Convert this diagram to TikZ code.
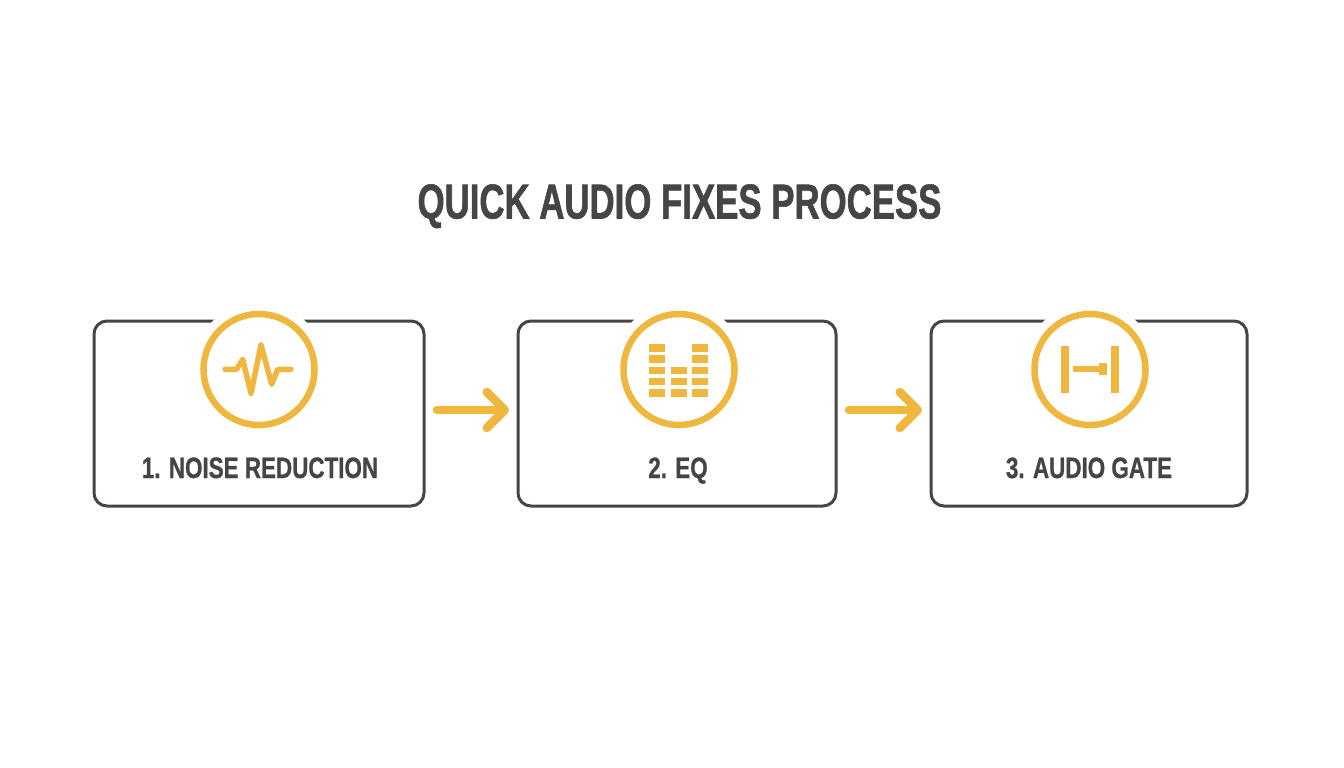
\documentclass[tikz,border=0pt]{standalone}
\usepackage{fontspec}
\setmainfont[FakeStretch=0.78]{Liberation Sans}
\newfontfamily\titlefont[FakeStretch=0.71,FakeBold=1.2]{Liberation Sans Bold}
\newfontfamily\labelfont[FakeStretch=0.76,FakeBold=0.8]{Liberation Sans Bold}
\usetikzlibrary{arrows.meta}
\definecolor{slate}{HTML}{454545}
\definecolor{amber}{HTML}{EFB73E}

\begin{document}
\begin{tikzpicture}[x=1pt,y=-1pt,
    step box/.style={draw=slate,line width=3pt,rounded corners=13pt,minimum height=185pt,outer sep=0pt,inner sep=0pt},
    icon ring/.style={circle,draw=amber,line width=6.5pt,minimum size=111pt,inner sep=0pt,outer sep=0pt},
    halo/.style={circle,fill=white,minimum size=134pt,inner sep=0pt},
    step label/.style={anchor=base,font=\labelfont\fontsize{29.5}{29.5}\selectfont,text=slate},
    flow/.style={draw=amber,line width=8.5pt,line cap=round,shorten <=13pt,shorten >=9pt,
      -{Straight Barb[length=18pt,width=36pt,round,line width=8.5pt]}},
    wave/.style={draw=amber,line width=5.5pt,line cap=round,line join=round},
    bar/.style={fill=amber}]

    \useasboundingbox (0,0) rectangle (1344,768);

    \node[anchor=base,text=slate,font=\titlefont\fontsize{49}{49}\selectfont] (title) at (679.5,218.5) {QUICK AUDIO FIXES PROCESS};

    \node[step box,minimum width=330pt] (box1) at (259,413.5) {};
    \node[step box,minimum width=318pt] (box2) at (677,413.5) {};
    \node[step box,minimum width=316pt] (box3) at (1089,413.5) {};

    \node[halo] (halo1) at (259,369.5) {}; \node[icon ring] (icon1) at (259,369.5) {};
    \node[halo] (halo2) at (679,369.5) {}; \node[icon ring] (icon2) at (679,369.5) {};
    \node[halo] (halo3) at (1090,369.5) {}; \node[icon ring] (icon3) at (1090,369.5) {};

    \node[step label] (label1) at (260,478) {1. NOISE REDUCTION};
    \node[step label] (label2) at (678,478) {2. EQ};
    \node[step label] (label3) at (1089,478) {3. AUDIO GATE};

    \path ([yshift=3.5pt]box1.east) edge[flow] ([yshift=3.5pt]box2.west)
          ([yshift=3.5pt]box2.east) edge[flow] ([yshift=3.5pt]box3.west);

    % noise reduction
    \draw[wave] (225,369.3) -- (236.7,369.3) -- (242.7,359.3) -- (251,393.3) -- (261,345)
                -- (271.7,384.3) -- (277.7,369.3) -- (291,369.3);

    % eq
    \foreach \x/\n in {648.7/5,670.7/3,692/5}
      \foreach \i in {1,...,\n}
        \fill[bar] (\x,{396.7-11.25*(\i-1)}) rectangle ++(16.2,-7.6);

    % gate
    \fill[bar] (1060.7,346) rectangle (1068.7,393.3);
    \fill[bar] (1111,346) rectangle (1119,393.3);
    \fill[bar] (1072.7,366.3) rectangle (1099,372);
    \fill[bar] (1098.7,362.7) rectangle (1106.7,374.7);
\end{tikzpicture}
\end{document}
